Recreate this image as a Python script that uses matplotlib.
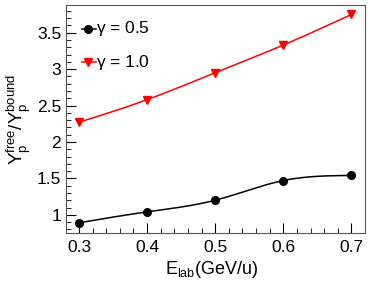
import matplotlib
matplotlib.use('Agg')
import matplotlib.pyplot as plt
import numpy as np
from matplotlib.ticker import MultipleLocator

plt.rcParams['font.family'] = ['Liberation Sans', 'DejaVu Sans']
plt.rcParams['mathtext.fontset'] = 'custom'
plt.rcParams['mathtext.rm'] = 'Liberation Sans'
plt.rcParams['mathtext.it'] = 'Liberation Sans'

e_lab = [0.3, 0.4, 0.5, 0.6, 0.7]
ratio_g05 = [0.89, 1.04, 1.20, 1.47, 1.54]
ratio_g10 = [2.27, 2.58, 2.95, 3.33, 3.75]


def smooth(x, y, n=200):
    # natural cubic spline through the points (like ROOT's "C" draw option)
    x = np.asarray(x, float)
    y = np.asarray(y, float)
    k = len(x)
    h = np.diff(x)
    A = np.zeros((k, k))
    b = np.zeros(k)
    A[0, 0] = A[-1, -1] = 1
    for i in range(1, k - 1):
        A[i, i - 1] = h[i - 1]
        A[i, i] = 2 * (h[i - 1] + h[i])
        A[i, i + 1] = h[i]
        b[i] = 6 * ((y[i + 1] - y[i]) / h[i] - (y[i] - y[i - 1]) / h[i - 1])
    m = np.linalg.solve(A, b)
    xs = np.linspace(x[0], x[-1], n)
    idx = np.clip(np.searchsorted(x, xs) - 1, 0, k - 2)
    t0 = x[idx]
    t1 = x[idx + 1]
    hh = t1 - t0
    ys = (m[idx] * (t1 - xs) ** 3 / (6 * hh) + m[idx + 1] * (xs - t0) ** 3 / (6 * hh)
          + (y[idx] / hh - m[idx] * hh / 6) * (t1 - xs)
          + (y[idx + 1] / hh - m[idx + 1] * hh / 6) * (xs - t0))
    return xs, ys


fig = plt.figure(figsize=(3.74, 2.87), dpi=100)
ax = fig.add_axes([66 / 374, 1 - 233 / 287, 299 / 374, 228 / 287])

xs, ys = smooth(e_lab, ratio_g05)
ax.plot(xs, ys, color='black', lw=1.1)
ax.plot(e_lab, ratio_g05, 'o', color='black', ms=5.5)
xs, ys = smooth(e_lab, ratio_g10)
ax.plot(xs, ys, color='red', lw=1.1)
ax.plot(e_lab, ratio_g10, 'v', color='red', ms=5.5)

# legend entries drawn by hand in axes coords
for yy, col, mk, lab in [(0.895, 'black', 'o', r'$\gamma$ = 0.5'),
                         (0.75, 'red', 'v', r'$\gamma$ = 1.0')]:
    ax.plot([0.055, 0.1], [yy, yy], color=col, lw=1.1, transform=ax.transAxes)
    ax.plot([0.075], [yy], mk, color=col, ms=5.5, transform=ax.transAxes)
    ax.text(0.1, yy, lab, transform=ax.transAxes, va='center', ha='left', fontsize=12.5)

ax.set_xlim(0.281, 0.72)
ax.set_ylim(0.75, 3.88)
ax.set_xticks([0.3, 0.4, 0.5, 0.6, 0.7])
ax.set_yticks([1, 1.5, 2, 2.5, 3, 3.5])
ax.set_yticklabels(['1', '1.5', '2', '2.5', '3', '3.5'])
ax.xaxis.set_minor_locator(MultipleLocator(0.02))
ax.yaxis.set_minor_locator(MultipleLocator(0.1))
ax.tick_params(which='both', direction='in', labelsize=12.5, top=False, right=False)
ax.tick_params(which='major', length=7)
ax.tick_params(which='minor', length=3.5)
ax.tick_params(axis='x', pad=5)
for s in ax.spines.values():
    s.set_color('#555555')

ax.set_xlabel(r'E$_{\mathregular{lab}}$(GeV/u)', fontsize=13)
ax.xaxis.set_label_coords(0.487, -0.115)
ax.set_ylabel(r'Y$_\mathregular{p}^\mathregular{free}$/Y$_\mathregular{p}^\mathregular{bound}$',
              fontsize=13.5)
ax.yaxis.set_label_coords(-0.112, 0.5)

fig.savefig('out.png', dpi=100)
